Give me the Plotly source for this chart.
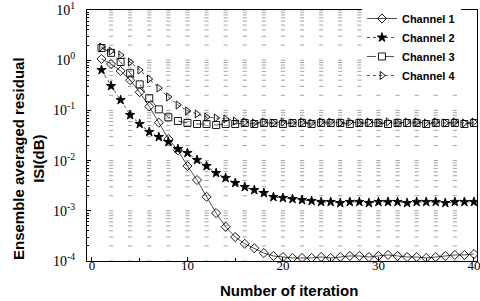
import numpy as np
import plotly.graph_objects as go

# ---- data ----
iterations = list(range(1, 41))

channel1 = [1.06, 0.84, 0.61, 0.40, 0.23, 0.12, 0.057, 0.027, 0.016, 0.0078,
            0.0041, 0.0019, 0.00090, 0.00048, 0.00030, 0.00022, 0.00018, 0.000144, 0.000126, 0.000120,
            0.000115, 0.000115, 0.000115, 0.000120, 0.000115, 0.000120, 0.000126, 0.000126, 0.000120, 0.000126,
            0.000132, 0.000126, 0.000120, 0.000120, 0.000115, 0.000120, 0.000126, 0.000132, 0.000132, 0.000138]

channel2 = [0.638, 0.306, 0.161, 0.081, 0.0536, 0.0372, 0.0295, 0.0235, 0.0170, 0.0142,
            0.0103, 0.0078, 0.00566, 0.00450, 0.00358, 0.00298, 0.00259, 0.00226, 0.00188, 0.00180,
            0.00172, 0.00164, 0.00157, 0.00150, 0.00150, 0.00143, 0.00150, 0.00150, 0.00143, 0.00150,
            0.00150, 0.00150, 0.00143, 0.00150, 0.00150, 0.00150, 0.00143, 0.00150, 0.00150, 0.00150]

channel3 = [1.75, 1.40, 0.92, 0.55, 0.33, 0.175, 0.105, 0.073, 0.0615, 0.0561,
            0.0536, 0.0536, 0.0512, 0.0536, 0.0536, 0.0561, 0.0536, 0.0561, 0.0561, 0.0536,
            0.0561, 0.0561, 0.0536, 0.0561, 0.0561, 0.0561, 0.0536, 0.0561, 0.0561, 0.0561,
            0.0536, 0.0561, 0.0561, 0.0561, 0.0536, 0.0561, 0.0561, 0.0561, 0.0536, 0.0561]

channel4 = [1.83, 1.52, 1.27, 0.92, 0.638, 0.422, 0.279, 0.185, 0.128, 0.0973,
            0.0848, 0.0739, 0.0706, 0.0675, 0.0615, 0.0587, 0.0561, 0.0587, 0.0561, 0.0587,
            0.0561, 0.0587, 0.0561, 0.0587, 0.0587, 0.0561, 0.0587, 0.0561, 0.0587, 0.0561,
            0.0587, 0.0561, 0.0587, 0.0587, 0.0561, 0.0587, 0.0561, 0.0587, 0.0561, 0.0587]

series_names = ["Channel 1", "Channel 2", "Channel 3", "Channel 4"]

x_tickvals = [0, 10, 20, 30, 40]
y_tickvals = [1e-4, 1e-3, 1e-2, 1e-1, 1e0, 1e1]
y_ticktext = ["10<sup>-4</sup>", "10<sup>-3</sup>", "10<sup>-2</sup>",
              "10<sup>-1</sup>", "10<sup>0</sup>", "10<sup>1</sup>"]

# dotted-grid positions (derived from the axis ticks)
grid_x = list(range(2, 40, 2))
grid_y = [k * 10.0 ** n for n in range(-4, 1) for k in range(1, 10)] + [10.0]
minor_y = [k * 10.0 ** n for n in range(-4, 1) for k in range(2, 10)]

fig = go.Figure()

gx, gy = np.meshgrid(grid_x, grid_y)
fig.add_trace(go.Scatter(
    x=gx.ravel(), y=gy.ravel(), mode="markers", showlegend=False, hoverinfo="skip",
    marker=dict(symbol="line-ew", size=3, color="#9a9a9a", line=dict(width=0.9, color="#9a9a9a"))))

styles = [
    dict(symbol="diamond-open", dash="solid", size=7),
    dict(symbol="star", dash="dot", size=7),
    dict(symbol="square-open", dash="dash", size=7),
    dict(symbol="triangle-right-open", dash="dot", size=7),
]
for name, vals, st in zip(series_names, [channel1, channel2, channel3, channel4], styles):
    fig.add_trace(go.Scatter(
        x=iterations, y=vals, name=name, mode="lines+markers",
        line=dict(color="black", width=0.7, dash=st["dash"]),
        marker=dict(symbol=st["symbol"], size=st["size"], color="black",
                    line=dict(width=0.9, color="black"))))

fig.update_layout(
    width=480, height=301,
    margin=dict(l=87, r=3, t=10, b=40),
    paper_bgcolor="white", plot_bgcolor="white",
    showlegend=True,
    legend=dict(x=0.705, y=1.024, xanchor="left", yanchor="top",
                bgcolor="white", borderwidth=0,
                font=dict(family="Liberation Sans, Arial", size=11, color="black", weight="bold")),
    xaxis=dict(range=[-0.52, 40.32], tickvals=x_tickvals, showgrid=False, zeroline=False,
               showline=True, mirror=True, linecolor="black", linewidth=1,
               ticks="inside", ticklen=4, tickcolor="black", automargin=False,
               ticklabelstandoff=-8, ticklabeloverflow="allow",
               minor=dict(tickvals=[5, 15, 25, 35], ticks="inside", ticklen=3, tickcolor="black"),
               tickfont=dict(family="Liberation Serif, Times New Roman", size=13, color="black")),
    yaxis=dict(type="log", range=[-4, 1], tickvals=y_tickvals, ticktext=y_ticktext,
               showgrid=False, zeroline=False, showline=True, mirror=True,
               linecolor="black", linewidth=1, ticks="inside", ticklen=4, tickcolor="black",
               automargin=False, ticklabelstandoff=8, ticklabeloverflow="allow",
               minor=dict(tickvals=minor_y, ticks="inside", ticklen=2, tickcolor="black"),
               tickfont=dict(family="Liberation Serif, Times New Roman", size=14, color="black")),
    annotations=[
        dict(text="Ensemble averaged residual<br>ISI(dB)", textangle=-90,
             xref="paper", yref="paper", x=(29 - 87) / 390, y=(261 - 159) / 251,
             xanchor="center", yanchor="middle", showarrow=False,
             font=dict(family="Liberation Sans, Arial", size=15, color="black", weight="bold")),
        dict(text="Number of iteration",
             xref="paper", yref="paper", x=(289 - 87) / 390, y=(261 - 290) / 251,
             xanchor="center", yanchor="middle", showarrow=False,
             font=dict(family="Liberation Sans, Arial", size=15, color="black", weight="bold")),
    ],
)

fig.write_html("out.html", config={"displayModeBar": False},
               post_script="document.body.style.margin='0';")
